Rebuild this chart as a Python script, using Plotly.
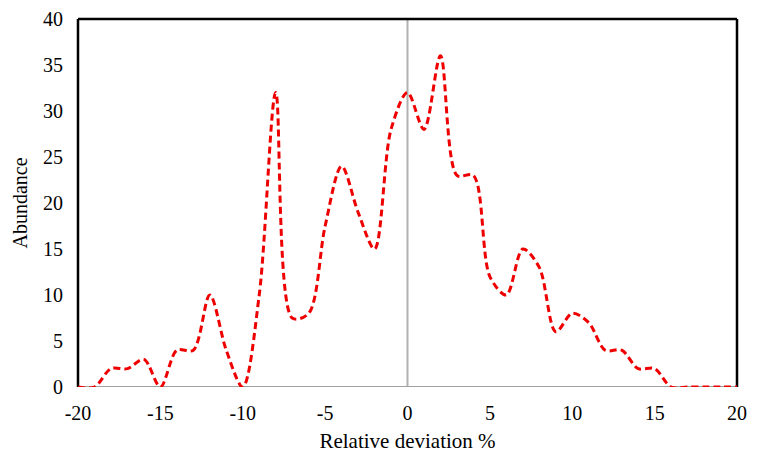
import plotly.graph_objects as go

deviation = list(range(-20, 21))
abundance = [0, 0, 2, 2, 3, 0, 4, 4, 10, 4, 0, 10, 32, 7.5, 8, 17.5, 24, 19, 15, 28,
             32, 28, 36, 23, 23, 12, 10, 15, 13, 6, 8, 7, 4, 4, 2, 2, 0, 0, 0, 0, 0]
x_ticks = [-20, -15, -10, -5, 0, 5, 10, 15, 20]
x_tick_labels = ["-20", "-15", "-10", "-5", "0", "5", "10", "15", "20"]
y_ticks = [0, 5, 10, 15, 20, 25, 30, 35, 40]

FONT = "Liberation Serif, Times New Roman, serif"

fig = go.Figure()
fig.add_trace(go.Scatter(
    x=deviation, y=abundance, mode="lines",
    line=dict(color="#ee0000", width=3, dash="7px,4px", shape="spline", smoothing=0.9),
    showlegend=False, hoverinfo="skip",
))

# page body has an 8px default margin, so the figure is shrunk to fit the window
fig.update_layout(
    width=752, height=457,
    margin=dict(l=70, r=23, t=11, b=78),
    paper_bgcolor="white", plot_bgcolor="white",
    font=dict(family=FONT, size=20, color="black"),
    xaxis=dict(range=[-20, 20], tickvals=x_ticks, ticktext=x_tick_labels,
               showgrid=False, zeroline=False, automargin=False,
               showline=False, ticks="", ticklabelstandoff=12,
               title=dict(text="Relative deviation %", standoff=10,
                          font=dict(family=FONT, size=21))),
    yaxis=dict(range=[0, 40], tickvals=y_ticks, showgrid=False, zeroline=False,
               automargin=False,
               showline=False, ticks="", ticklabelstandoff=14,
               title=dict(text="Abundance", standoff=10,
                          font=dict(family=FONT, size=20))),
    shapes=[
        dict(type="line", xref="x", yref="y domain", x0=0, x1=0, y0=0, y1=1,
             line=dict(color="#b0b0b0", width=2), layer="below"),
        dict(type="line", xref="x domain", yref="y", x0=0, x1=1, y0=0, y1=0,
             line=dict(color="#a0a0a0", width=2), layer="below"),
        dict(type="line", xref="x domain", yref="y domain", x0=0, x1=1, y0=1, y1=1,
             line=dict(color="black", width=2.5)),
        dict(type="line", xref="x domain", yref="y domain", x0=0, x1=0, y0=0, y1=1,
             line=dict(color="black", width=2.5), layer="below"),
        dict(type="line", xref="x domain", yref="y domain", x0=1, x1=1, y0=0, y1=1,
             line=dict(color="black", width=2.5), layer="below"),
    ],
)

fig.write_html("out.html")
